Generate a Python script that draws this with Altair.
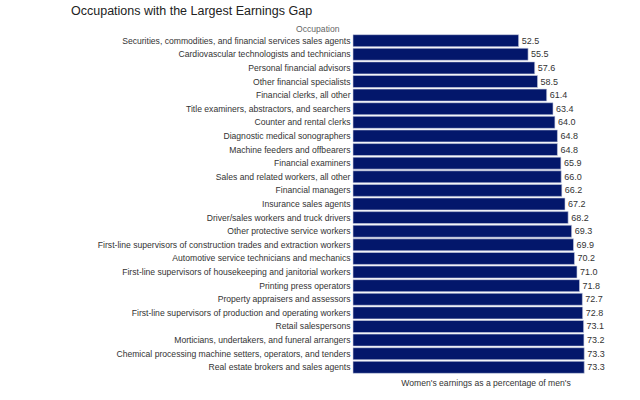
import altair as alt
import pandas as pd

occupations = [
    "Securities, commodities, and financial services sales agents",
    "Cardiovascular technologists and technicians",
    "Personal financial advisors",
    "Other financial specialists",
    "Financial clerks, all other",
    "Title examiners, abstractors, and searchers",
    "Counter and rental clerks",
    "Diagnostic medical sonographers",
    "Machine feeders and offbearers",
    "Financial examiners",
    "Sales and related workers, all other",
    "Financial managers",
    "Insurance sales agents",
    "Driver/sales workers and truck drivers",
    "Other protective service workers",
    "First-line supervisors of construction trades and extraction workers",
    "Automotive service technicians and mechanics",
    "First-line supervisors of housekeeping and janitorial workers",
    "Printing press operators",
    "Property appraisers and assessors",
    "First-line supervisors of production and operating workers",
    "Retail salespersons",
    "Morticians, undertakers, and funeral arrangers",
    "Chemical processing machine setters, operators, and tenders",
    "Real estate brokers and sales agents",
]
ratios = [52.5, 55.5, 57.6, 58.5, 61.4, 63.4, 64.0, 64.8, 64.8, 65.9, 66.0, 66.2,
          67.2, 68.2, 69.3, 69.9, 70.2, 71.0, 71.8, 72.7, 72.8, 73.1, 73.2, 73.3, 73.3]

df = pd.DataFrame({"Occupation": occupations, "Ratio": ratios})

FONT = "Liberation Sans"
TEXT = "#333333"
SIZE = 8.6

y = alt.Y(
    "Occupation:N",
    sort=occupations,
    scale=alt.Scale(paddingInner=0.12, paddingOuter=0.05),
    axis=alt.Axis(
        title="Occupation",
        titleAngle=0,
        titleAlign="right",
        titleBaseline="bottom",
        titleX=-14,
        titleY=-1,
        titleFont=FONT,
        titleFontSize=SIZE,
        titleFontWeight="normal",
        titleColor="#666666",
        labelFont=FONT,
        labelFontSize=SIZE,
        labelColor=TEXT,
        labelPadding=3,
        labelLimit=400,
        ticks=False,
        domain=False,
    ),
)
x = alt.X(
    "Ratio:Q",
    scale=alt.Scale(domain=[0, 84], nice=False, zero=True),
    axis=alt.Axis(
        title="Women's earnings as a percentage of men's",
        titleFont=FONT,
        titleFontSize=SIZE,
        titleFontWeight="normal",
        titleColor=TEXT,
        titlePadding=4,
        labels=False,
        ticks=False,
        domain=False,
        grid=False,
    ),
)

bars = alt.Chart(df).mark_bar(
    color="#03176b", stroke="#c9cfe0", strokeWidth=0.6
).encode(x=x, y=y)

labels = alt.Chart(df).mark_text(
    align="left", baseline="middle", dx=3, font=FONT, fontSize=SIZE + 0.4, color=TEXT
).encode(
    x=alt.X("Ratio:Q"),
    y=alt.Y("Occupation:N", sort=occupations),
    text=alt.Text("Ratio:Q", format=".1f"),
)

chart = (
    alt.layer(bars, labels)
    .properties(
        width=265,
        height=340,
        autosize=alt.AutoSizeParams(type="none"),
        padding={"left": 353, "top": 34, "right": 22, "bottom": 26},
        title=alt.Title(
            "Occupations with the Largest Earnings Gap",
            anchor="start",
            frame="group",
            dx=-282,
            offset=7,
            font=FONT,
            fontSize=12.5,
            fontWeight="normal",
            color="#222222",
        ),
        background="white",
    )
    .configure_view(stroke=None)
)

chart.save("out.html", embed_options={"renderer": "svg", "actions": False})
